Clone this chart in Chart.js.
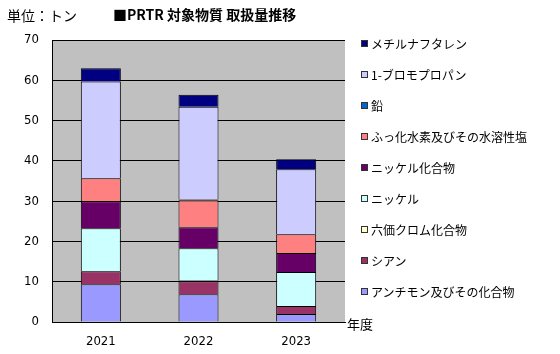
<!DOCTYPE html>
<html lang="ja">
<head>
<meta charset="utf-8">
<script src="https://cdn.jsdelivr.net/npm/chart.js@4.4.1/dist/chart.umd.min.js"></script>
<style>
  body { margin: 0; background: #fff; }
  #wrap { position: relative; width: 560px; height: 354px; font-family: "Noto Sans CJK JP", sans-serif; color: #000; }
  #chart { position: absolute; left: 0; top: 0; }
  .txt { position: absolute; white-space: nowrap; line-height: 16px; }
  #unit { left: 7px; top: 7px; font-size: 14px; }
  #title { left: 113px; top: 6px; font-size: 14px; font-weight: bold; }
  #year { left: 347px; top: 316px; font-size: 13px; }
  #legend { position: absolute; left: 361px; top: 28px; }
  .item { height: 31px; display: flex; align-items: center; font-size: 12px; line-height: 16px; white-space: nowrap; }
  .box { width: 5px; height: 5px; border: 1px solid #333; margin-right: 3px; }
</style>
</head>
<body>
<div id="wrap">
  <canvas id="chart" width="560" height="354"></canvas>
  <div class="txt" id="unit">単位：トン</div>
  <div class="txt" id="title">■PRTR 対象物質 取扱量推移</div>
  <div class="txt" id="year">年度</div>
  <div id="legend"></div>
</div>
<script>
// Data
const years = ['2021', '2022', '2023'];
const antimony = [9.4, 6.9, 2.0];
const cyanide = [3.2, 3.2, 2.0];
const chromium6 = [0, 0.2, 0];
const nickel = [10.7, 8.0, 8.4];
const nickelCompounds = [6.7, 5.2, 4.7];
const hydrogenFluoride = [5.7, 6.7, 4.7];
const lead = [0, 0.2, 0];
const bromopropane = [24.0, 23.0, 16.1];
const methylnaphthalene = [3.3, 3.0, 2.5];
const yTicks = [0, 10, 20, 30, 40, 50, 60, 70];

// Series, bottom of the stack first
const series = [
    { label: 'アンチモン及びその化合物', data: antimony, color: '#9999FF' },
    { label: 'シアン', data: cyanide, color: '#993366' },
    { label: '六価クロム化合物', data: chromium6, color: '#FFFFCC' },
    { label: 'ニッケル', data: nickel, color: '#CCFFFF' },
    { label: 'ニッケル化合物', data: nickelCompounds, color: '#660066' },
    { label: 'ふっ化水素及びその水溶性塩', data: hydrogenFluoride, color: '#FF8080' },
    { label: '鉛', data: lead, color: '#0066CC' },
    { label: '1-ブロモプロパン', data: bromopropane, color: '#CCCCFF' },
    { label: 'メチルナフタレン', data: methylnaphthalene, color: '#000080' }
];

const tickFont = { family: "'Liberation Sans Narrow', 'DejaVu Sans Condensed', sans-serif", size: 13 };

// Gray plot area
const plotBackground = {
    id: 'plotBackground',
    beforeDraw: (chart) => {
        const { ctx, chartArea } = chart;
        ctx.save();
        ctx.fillStyle = '#C0C0C0';
        ctx.fillRect(chartArea.left, chartArea.top, chartArea.right - chartArea.left, chartArea.bottom - chartArea.top);
        ctx.restore();
    }
};

// one shared 1px line between stacked segments, nothing for empty ones
const segmentBorder = (c) => c.raw ? { top: 1, left: 1, right: 1, bottom: 0 } : 0;

new Chart(document.getElementById('chart'), {
    type: 'bar',
    data: {
        labels: years,
        datasets: series.map(s => ({
            label: s.label,
            data: s.data,
            backgroundColor: s.color,
            borderColor: '#000',
            borderWidth: segmentBorder,
            borderSkipped: false,
            categoryPercentage: 1,
            barPercentage: 0.41
        }))
    },
    options: {
        responsive: false,
        animation: false,
        layout: { padding: { top: 40, right: 215, left: 0, bottom: 0 } },
        plugins: {
            legend: { display: false },
            tooltip: { enabled: false }
        },
        scales: {
            x: {
                stacked: true,
                grid: { display: false },
                border: { color: '#000', width: 1 },
                ticks: { color: '#000', font: tickFont, padding: 4 },
                afterFit: (scale) => { scale.height = 32; }
            },
            y: {
                stacked: true,
                min: 0,
                max: 70,
                afterBuildTicks: (scale) => { scale.ticks = yTicks.map(v => ({ value: v })); },
                grid: { color: '#000', lineWidth: 1, drawTicks: false },
                border: { color: '#000', width: 1 },
                ticks: { color: '#000', font: tickFont, padding: 13 },
                afterFit: (scale) => { scale.width = 52; }
            }
        }
    },
    plugins: [plotBackground]
});

// Legend, top of the stack first
const legend = document.getElementById('legend');
legend.innerHTML = series.slice().reverse().map(s => `
    <div class="item"><span class="box" style="background:${s.color}"></span>${s.label}</div>
`).join('');
</script>
</body>
</html>
